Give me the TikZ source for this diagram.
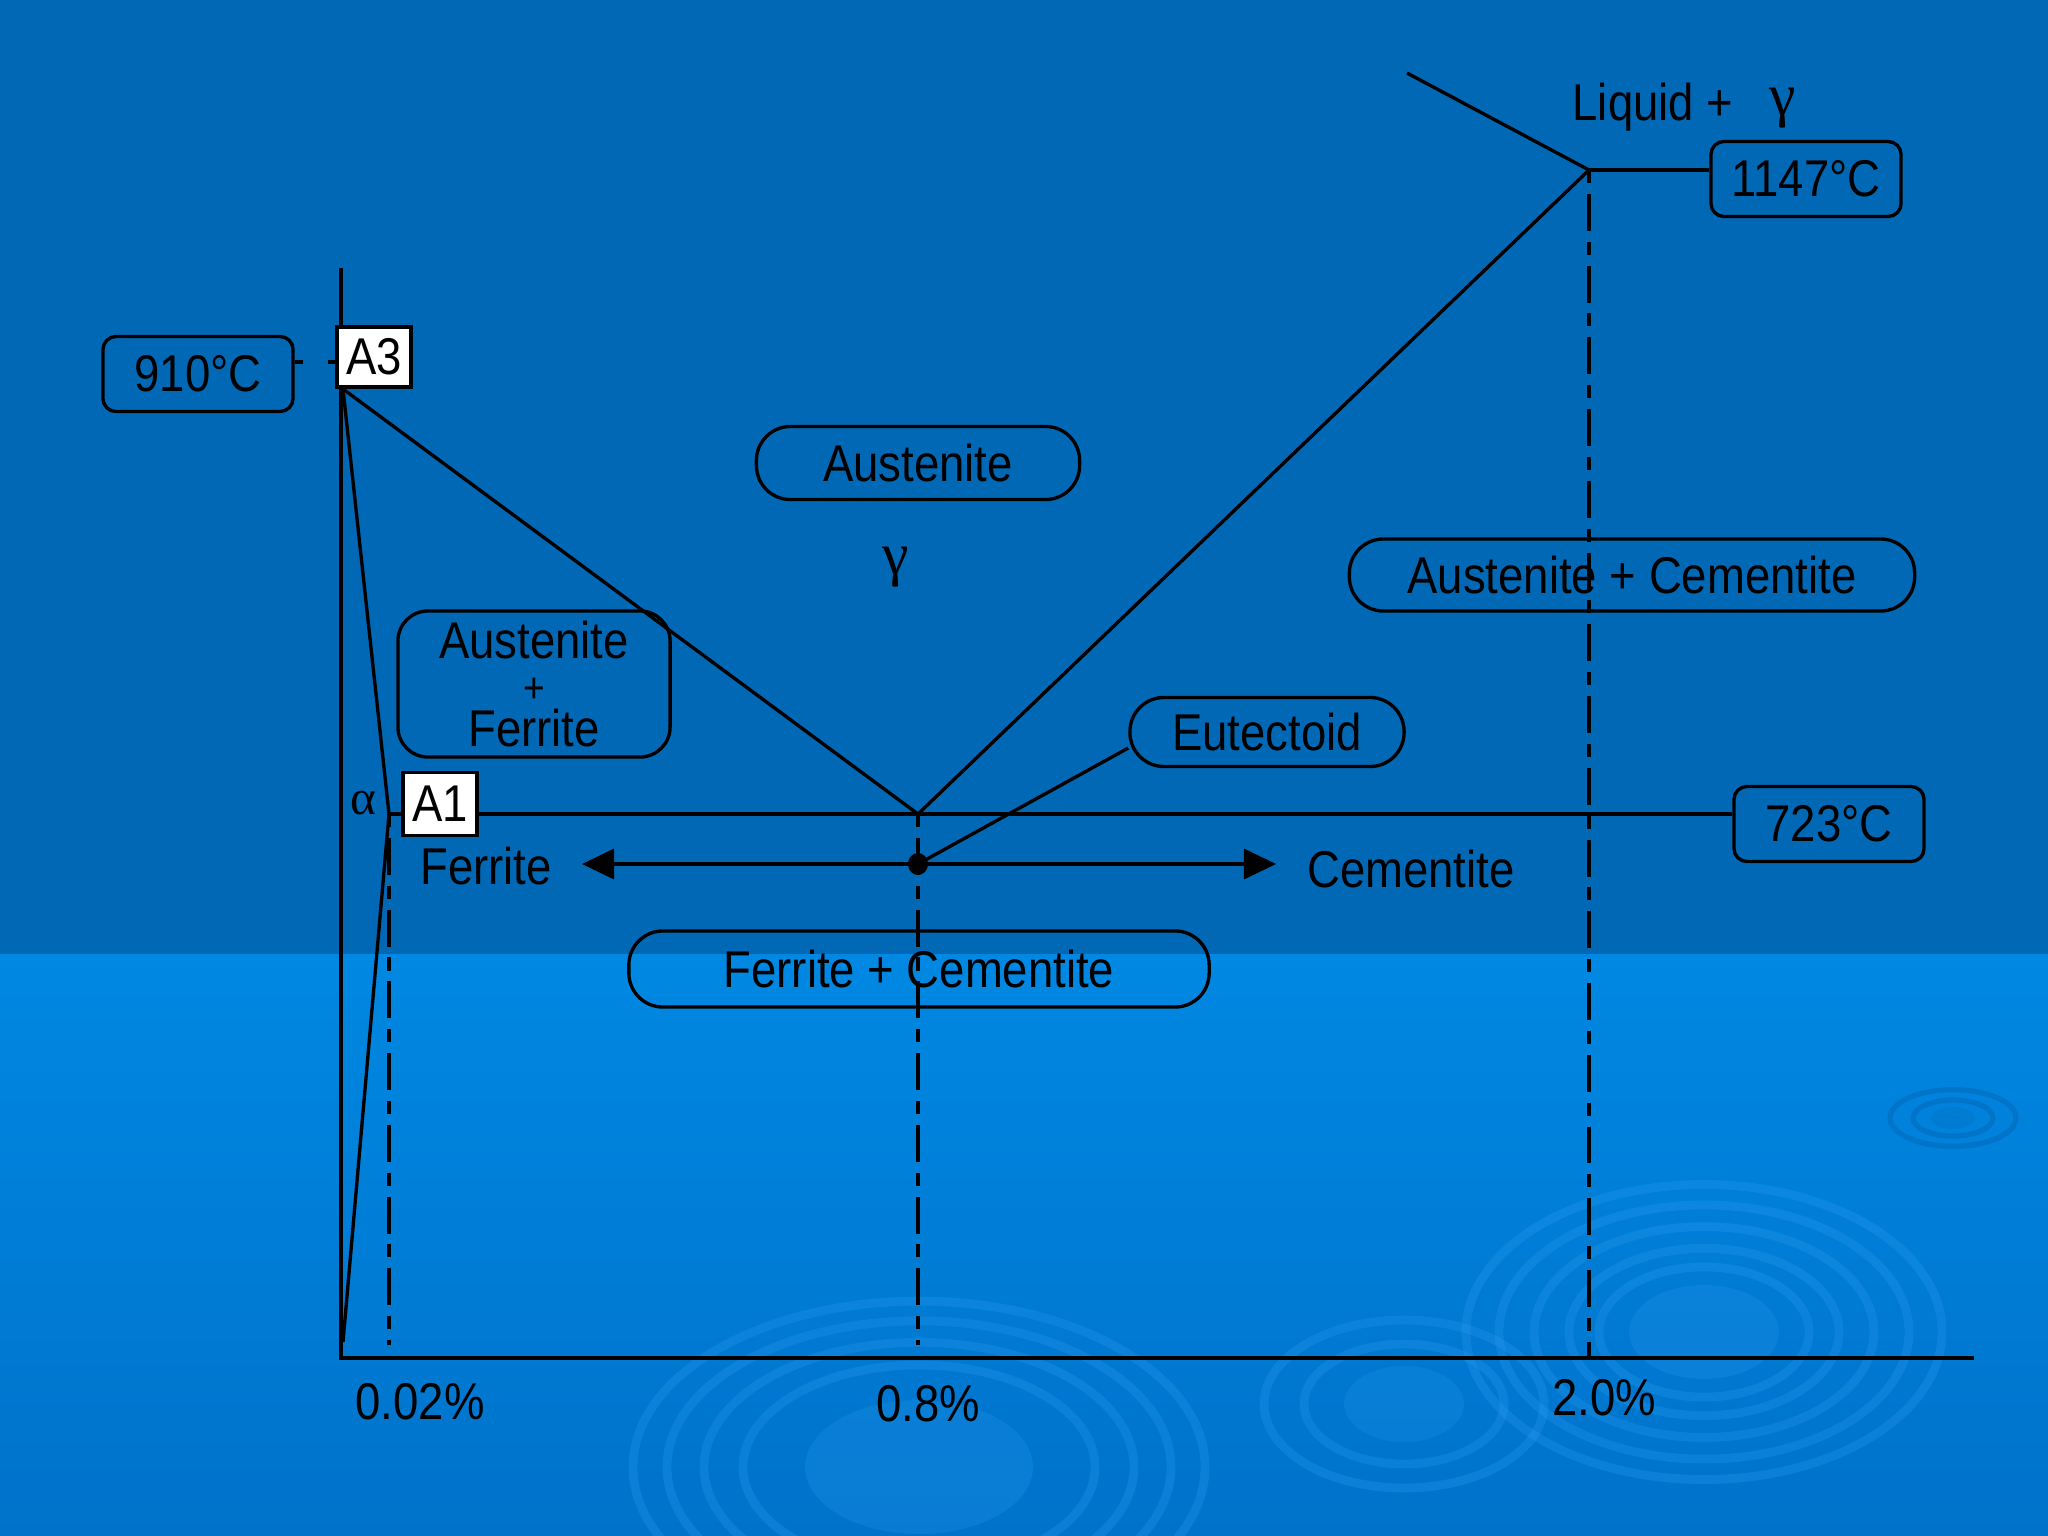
\documentclass[tikz,border=0pt]{standalone}
\usepackage{fontspec}
\setmainfont{Liberation Sans}[FakeStretch=0.88]
\newfontfamily\grkfont{Liberation Serif}
\usetikzlibrary{arrows.meta}
\definecolor{slidetop}{RGB}{0,104,180}
\definecolor{slidelow}{RGB}{0,136,226}
\definecolor{slidebot}{RGB}{0,114,202}
\definecolor{ripple}{RGB}{40,152,238}
\definecolor{rippledark}{RGB}{0,108,190}

\begin{document}
\begin{tikzpicture}[x=0.01cm, y=-0.01cm, line width=0.95pt,
    font=\fontsize{14.7}{17.6}\selectfont]

	\tikzset{phase/.style={draw, rounded corners=0.34cm, inner sep=0pt},
	         tempbox/.style={draw, rounded corners=0.13cm, inner sep=0pt,
	                         minimum width=1.9cm, minimum height=0.75cm},
	         critbox/.style={draw, fill=white, inner sep=0pt, minimum width=0.74cm},
	         guide/.style={dash pattern=on 3.7pt off 3.1pt on 10.5pt off 3.1pt},
	         ring/.style={draw=ripple, line width=2.5pt, opacity=0.32},
	         grk/.style={font=\grkfont\fontsize{17}{18}\selectfont},
	         solid arrow/.style={-{Triangle[length=0.32cm,width=0.30cm]}}}

	% slide background
	\useasboundingbox (0,0) rectangle (2048,1536);
	\fill[slidetop] (0,0) rectangle (2048,954);
	\shade[top color=slidelow, bottom color=slidebot] (0,954) rectangle (2048,1536);
	\begin{scope}
	    \clip (0,954) rectangle (2048,1536);
	    \fill[ripple, opacity=0.25] (1704,1332) ellipse [x radius=75, y radius=47];
	    \foreach \r in {105,135,170,205,238}
	        \draw[ring] (1704,1332) ellipse [x radius=\r, y radius={0.62*\r}];
	    \fill[ripple, opacity=0.25] (919,1467) ellipse [x radius=114, y radius=67];
	    \foreach \r in {176,215,252,286}
	        \draw[ring] (919,1467) ellipse [x radius=\r, y radius={0.58*\r}];
	    \fill[ripple, opacity=0.22] (1404,1404) ellipse [x radius=60, y radius=38];
	    \foreach \r in {100,140}
	        \draw[ring] (1404,1404) ellipse [x radius=\r, y radius={0.6*\r}];
	    \fill[rippledark, opacity=0.3] (1953,1118) ellipse [x radius=22, y radius=11];
	    \foreach \r in {40,63}
	        \draw[rippledark, line width=1.5pt, opacity=0.6] (1953,1118) ellipse [x radius=\r, y radius={0.45*\r}];
	\end{scope}

	% axes and phase boundaries
	\coordinate (ytop) at (341,268);
	\coordinate (O) at (341,1358);
	\coordinate (xend) at (1974,1358);
	\coordinate (pA3) at (343,389);
	\coordinate (pA1) at (389,814);
	\coordinate (pS) at (343,1342);
	\coordinate (pE) at (918,814);
	\coordinate (pC) at (1589,170);
	\coordinate (pL) at (1407,73);
	\coordinate (pD) at (918,864);
	\coordinate (fL) at (582,864);
	\coordinate (fR) at (1276,864);

	\draw (ytop) -- (O) -- (xend);
	\draw (pA3) -- (pA1) -- (pS);
	\draw (pA3) -- (pE) -- (pC) -- (pL);
	\draw[guide] (pA1) -- (pA1 |- 0,1345);
	\draw[guide] (pE) -- (pE |- 0,1345);
	\draw[guide] (pC) -- (pC |- O);

	\node[tempbox] (t910) at (198,374) {910°C};
	\node[tempbox] (t1147) at (1806,179) {1147°C};
	\node[tempbox] (t723) at (1829,824) {723°C};
	\draw (pA1) -- (pA1 -| t723.west);
	\draw (pC) -- (pC -| t1147.west);
	\node[critbox, minimum height=0.60cm] (a3) at (374,357) {A3};
	\node[critbox, minimum height=0.63cm] (a1) at (440,804) {A1};
	\draw[dash pattern=on 0.08cm off 0.25cm on 0.14cm] (t910.east |- 0,362) -- (a3.west |- 0,362);

	% phase fields
	\node[phase, minimum width=3.23cm, minimum height=0.73cm] (aus) at (918,463) {Austenite};
	\node[phase, minimum width=2.72cm, minimum height=1.46cm, rounded corners=0.3cm,
	      align=center, font=\fontsize{14.7}{12.4}\selectfont] (ausfer) at (534,684)
	      {Austenite\\{\fontsize{12}{12.4}\selectfont +}\\Ferrite};
	\node[phase, minimum width=5.65cm, minimum height=0.72cm] (auscem) at (1632,575) {Austenite + Cementite};
	\node[phase, minimum width=2.74cm, minimum height=0.69cm] (eut) at (1267,732) {Eutectoid};
	\node[phase, minimum width=5.80cm, minimum height=0.76cm] (fercem) at (919,969) {Ferrite + Cementite};

	\node[grk] (gam) at (896,567) {γ};
	\node[anchor=base west, inner sep=0pt] (liq) at (1571,120) {Liquid +};
	\node[grk] (liqg) at (1783,108) {γ};
	\node[font=\grkfont\fontsize{14}{15}\selectfont] (alf) at (363,803) {α};

	% eutectoid reaction
	\draw[solid arrow] (pD) -- (fL);
	\draw[solid arrow] (pD) -- (fR);
	\fill (pD) ellipse [x radius=10, y radius=11];
	\draw (pD) -- ([yshift=-0.16cm]eut.west);
	\node (fer) at (486,866) {Ferrite};
	\node (cem) at (1411,869) {Cementite};

	% carbon content
	\node (c002) at (420,1402) {0.02\%};
	\node (c08) at (928,1404) {0.8\%};
	\node (c20) at (1604,1398) {2.0\%};

\end{tikzpicture}
\end{document}
